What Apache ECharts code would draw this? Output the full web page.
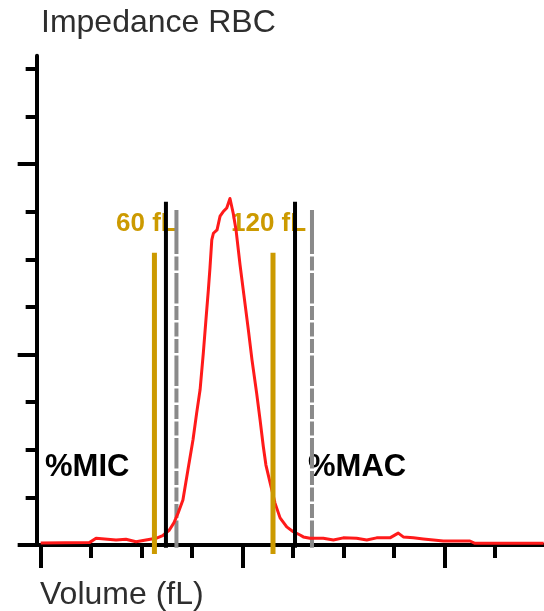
<!DOCTYPE html>
<html>
<head>
<meta charset="utf-8">
<script src="https://cdn.jsdelivr.net/npm/echarts@6/dist/echarts.min.js"></script>
<style>html,body{margin:0;padding:0;background:#fff}#c{width:544px;height:611px}</style>
</head>
<body>
<div id="c"></div>
<script>
// Histogram curve: volume (fL) and relative count
const volume = [0, 24.1, 27.4, 37.3, 42.2, 47.2, 52.1, 57.1, 60.4, 63.7, 66.0, 68.0, 70.4, 72.9, 75.4, 77.2, 78.9, 80.5, 81.8, 83.0, 83.8, 84.7, 85.5, 87.3, 88.8, 90.3, 92.1, 93.7, 95.3, 96.7, 98.7, 100.6, 102.8, 104.6, 106.9, 108.6, 110.2, 111.5, 113.5, 116.0, 118.5, 121.8, 125.0, 128.4, 130.0, 133.3, 139.9, 144.9, 149.8, 156.4, 161.4, 166.3, 172.9, 177.0, 179.5, 184.5, 189.4, 194.4, 199.3, 212.5, 215.0, 249];
const count = [0.04, 0.05, 0.14, 0.105, 0.12, 0.07, 0.105, 0.14, 0.195, 0.315, 0.47, 0.67, 0.945, 1.58, 2.21, 2.77, 3.26, 4.03, 4.73, 5.36, 5.82, 6.41, 6.55, 6.62, 6.91, 7.0, 7.08, 7.28, 6.97, 6.62, 5.88, 5.25, 4.52, 3.89, 3.19, 2.63, 2.07, 1.68, 1.32, 0.88, 0.57, 0.38, 0.28, 0.21, 0.17, 0.14, 0.14, 0.105, 0.15, 0.14, 0.105, 0.15, 0.15, 0.25, 0.17, 0.15, 0.126, 0.105, 0.084, 0.084, 0.036, 0.036];

// Threshold lines (fL) and their vertical extents
const goldX = [56.3, 115.0];   const goldY = [-0.19, 6.14];
const blackX = [62.0, 125.9];  const blackY = [-0.06, 7.21];
const grayX = [67.2, 134.3];   const grayY = [-0.06, 7.04];

// Tick values
const xMajor = [0, 100, 200];
const xMinor = [25, 50, 75, 125, 150, 175, 225];
const yMajor = [0, 4, 8];
const yMinor = [1, 2, 3, 5, 6, 7, 9, 10];

const title = 'Impedance RBC';
const xName = 'Volume (fL)';
const goldLabels = ['60 fL', '120 fL'];
const regionLabels = ['%MIC', '%MAC'];

const GOLD = '#CC9A00';
const FONT = '"Liberation Sans", Arial, sans-serif';

const chart = echarts.init(document.getElementById('c'), null, {renderer: 'canvas'});

function vline(x, ys, color, width, z, dash) {
  return {
    type: 'line', z: z, clip: false, symbol: 'none', silent: true, animation: false,
    data: [[x, ys[1]], [x, ys[0]]],
    lineStyle: {color: color, width: width, type: dash || 'solid', cap: 'butt'}
  };
}

const grayDash = [44, 2.5, 14, 2.5, 30.5, 2.5, 14, 2.5, 14, 2.5, 14, 2.5, 30.5, 2.5, 14, 2.5, 14, 2.5, 14, 2.5, 30.5, 2.5, 14, 2.5, 14, 2.5, 14, 2.5, 30.5, 2.5, 14, 2.5, 14, 2.5, 14, 2.5, 30.5, 2.5];

const series = [];
grayX.forEach(x => series.push(vline(x, grayY, '#8a8a8a', 4, 1, grayDash)));
series.push({
  type: 'line', z: 2, symbol: 'none', animation: false, clip: false,
  data: volume.map((v, i) => [v, count[i]]),
  lineStyle: {color: '#ff1a1a', width: 3, join: 'round'}
});
blackX.forEach(x => series.push(vline(x, blackY, '#000', 4, 3)));
goldX.forEach(x => series.push(vline(x, goldY, GOLD, 5, 4)));

const axLine = {show: true, onZero: false, lineStyle: {color: '#000', width: 4}};

chart.setOption({
  animation: false,
  backgroundColor: '#fff',
  grid: {left: 36.66, right: 0.32, top: 55.7, bottom: 66, containLabel: false, outerBoundsMode: 'none'},
  xAxis: [
    {type: 'value', min: -2, max: 249, position: 'bottom', axisLine: axLine,
     axisTick: {show: true, customValues: xMajor, length: 23, lineStyle: {color: '#000', width: 4}},
     axisLabel: {show: false}, splitLine: {show: false}},
    {type: 'value', min: -2, max: 249, position: 'bottom', axisLine: {show: false, onZero: false},
     axisTick: {show: true, customValues: xMinor, length: 13, lineStyle: {color: '#000', width: 4}},
     axisLabel: {show: false}, splitLine: {show: false}}
  ],
  yAxis: [
    {type: 'value', min: 0, max: 10.28, position: 'left', axisLine: axLine,
     axisTick: {show: true, customValues: yMajor, length: 19, lineStyle: {color: '#000', width: 4}},
     axisLabel: {show: false}, splitLine: {show: false}},
    {type: 'value', min: 0, max: 10.28, position: 'left', axisLine: {show: false, onZero: false},
     axisTick: {show: true, customValues: yMinor, length: 11, lineStyle: {color: '#000', width: 4}},
     axisLabel: {show: false}, splitLine: {show: false}}
  ],
  series: series,
  graphic: [
    {type: 'text', left: 41, top: 7, style: {text: title, font: '32px ' + FONT, fill: '#2e2e2e'}},
    {type: 'text', left: 40, top: 579, style: {text: xName, font: '32px ' + FONT, fill: '#2e2e2e'}},
    {type: 'text', left: 116, top: 211, style: {text: goldLabels[0], font: 'bold 26px ' + FONT, fill: GOLD}},
    {type: 'text', left: 231, top: 211, style: {text: goldLabels[1], font: 'bold 26px ' + FONT, fill: GOLD}},
    {type: 'text', left: 45, top: 452, style: {text: regionLabels[0], font: 'bold 31px ' + FONT, fill: '#000'}},
    {type: 'text', left: 308, top: 452, style: {text: regionLabels[1], font: 'bold 31px ' + FONT, fill: '#000'}}
  ]
});
</script>
</body>
</html>
